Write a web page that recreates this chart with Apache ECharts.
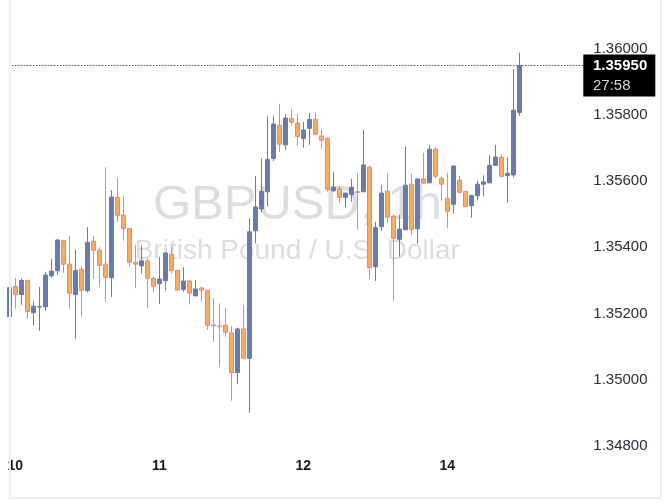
<!DOCTYPE html>
<html><head><meta charset="utf-8">
<script src="https://cdn.jsdelivr.net/npm/echarts@6/dist/echarts.min.js"></script>
<style>html,body{margin:0;padding:0;background:#fff}#c{width:670px;height:504px}</style>
</head><body><div id="c"></div>
<script>
// ---- data (hourly GBPUSD candles) ----
const opens = [1.35190,1.35282,1.35257,1.35300,1.35202,1.35219,1.35220,1.35314,1.35329,1.35421,
1.35349,1.35257,1.35333,1.35269,1.35418,1.35391,1.35349,1.35308,1.35551,1.35497,
1.35457,1.35355,1.35344,1.35359,1.35306,1.35290,1.35299,1.35379,1.35330,1.35272,
1.35298,1.35253,1.35277,1.35270,1.35165,1.35162,1.35164,1.35141,1.35021,1.35153,
1.35064,1.35450,1.35516,1.35568,1.35669,1.35769,1.35710,1.35790,1.35776,1.35729,
1.35760,1.35787,1.35737,1.35730,1.35571,1.35577,1.35551,1.35559,1.35568,1.35568,
1.35642,1.35341,1.35462,1.35570,1.35494,1.35424,1.35453,1.35591,1.35456,1.35607,
1.35595,1.35697,1.35609,1.35548,1.35530,1.35603,1.35569,1.35526,1.35556,1.35591,
1.35595,1.35648,1.35672,1.35617,1.35619,1.35808];
const closes = [1.35278,1.35258,1.35300,1.35206,1.35222,1.35221,1.35316,1.35328,1.35422,1.35349,
1.35261,1.35330,1.35270,1.35415,1.35391,1.35345,1.35309,1.35552,1.35497,1.35457,
1.35355,1.35349,1.35359,1.35306,1.35282,1.35304,1.35383,1.35330,1.35271,1.35298,
1.35261,1.35274,1.35270,1.35164,1.35163,1.35160,1.35143,1.35021,1.35153,1.35064,
1.35447,1.35522,1.35569,1.35666,1.35773,1.35712,1.35791,1.35778,1.35735,1.35755,
1.35787,1.35742,1.35724,1.35575,1.35582,1.35551,1.35564,1.35582,1.35566,1.35649,
1.35339,1.35460,1.35564,1.35491,1.35427,1.35455,1.35588,1.35454,1.35607,1.35594,
1.35697,1.35615,1.35591,1.35509,1.35646,1.35566,1.35523,1.35557,1.35591,1.35598,
1.35648,1.35673,1.35614,1.35624,1.35815,1.35950];
const lows = [1.35186,1.35214,1.35225,1.35185,1.35163,1.35148,1.35208,1.35308,1.35317,1.35323,
1.35214,1.35123,1.35190,1.35263,1.35305,1.35281,1.35235,1.35250,1.35476,1.35420,
1.35341,1.35276,1.35321,1.35215,1.35263,1.35229,1.35269,1.35321,1.35269,1.35266,
1.35227,1.35252,1.35235,1.35150,1.35113,1.35039,1.35129,1.34936,1.34986,1.35063,
1.34899,1.35412,1.35506,1.35523,1.35661,1.35689,1.35694,1.35768,1.35707,1.35701,
1.35710,1.35741,1.35697,1.35568,1.35568,1.35536,1.35520,1.35538,1.35454,1.35567,
1.35304,1.35298,1.35449,1.35474,1.35237,1.35372,1.35452,1.35437,1.35411,1.35593,
1.35595,1.35608,1.35541,1.35459,1.35502,1.35565,1.35521,1.35490,1.35542,1.35554,
1.35594,1.35647,1.35613,1.35535,1.35612,1.35798];
const highs = [1.35283,1.35307,1.35306,1.35301,1.35237,1.35280,1.35326,1.35365,1.35425,1.35422,
1.35434,1.35394,1.35343,1.35461,1.35434,1.35401,1.35642,1.35573,1.35611,1.35557,
1.35458,1.35408,1.35406,1.35367,1.35311,1.35371,1.35384,1.35402,1.35331,1.35340,
1.35301,1.35301,1.35281,1.35271,1.35247,1.35231,1.35216,1.35162,1.35157,1.35225,
1.35488,1.35616,1.35669,1.35797,1.35797,1.35834,1.35803,1.35818,1.35803,1.35780,
1.35807,1.35808,1.35757,1.35733,1.35629,1.35586,1.35565,1.35607,1.35624,1.35755,
1.35648,1.35477,1.35588,1.35625,1.35499,1.35498,1.35706,1.35622,1.35608,1.35686,
1.35710,1.35704,1.35614,1.35626,1.35647,1.35616,1.35570,1.35558,1.35601,1.35618,
1.35679,1.35710,1.35680,1.35673,1.35939,1.35989];
const slotCount = 97;                 // hourly slots on the axis (incl. empty right margin)
const dayLabels = ['10', '11', '12', '14'];
const dayLabelIndex = [1, 25, 49, 73];
const yMin = 1.348, yMax = 1.3612, yStep = 0.002;
const lastPrice = 1.35950;
const countdown = '27:58';
const watermarkTitle = 'GBPUSD, 1h';
const watermarkSub = 'British Pound / U.S. Dollar';

// ---- build ----
const cats = [];
for (let i = 0; i < slotCount; i++) cats.push('h' + i);
const candles = opens.map((o, i) => [o, closes[i], lows[i], highs[i]]);
const priceLine = [[cats[0], lastPrice], [cats[slotCount - 1], lastPrice]];
const FONT = '"Liberation Sans", Arial, sans-serif';
const UP = '#6a7aab', DOWN_FILL = '#fbab5f', DOWN_EDGE = '#f27f86';

const chart = echarts.init(document.getElementById('c'), null, {renderer: 'canvas'});
chart.setOption({
  animation: false,
  backgroundColor: '#ffffff',
  grid: {left: 9.3, right: 84.7, top: 9.34, bottom: 58.4, containLabel: false},
  xAxis: {
    type: 'category', data: cats, boundaryGap: false,
    axisLine: {show: false}, axisTick: {show: false}, splitLine: {show: false},
    axisLabel: {
      interval: (idx) => dayLabelIndex.indexOf(idx) >= 0,
      formatter: (v, idx) => { const k = dayLabelIndex.indexOf(idx); return k >= 0 ? dayLabels[k] : ''; },
      color: '#131722', fontSize: 14, fontWeight: 'bold', fontFamily: FONT, margin: 14
    }
  },
  yAxis: {
    type: 'value', position: 'right', min: yMin, max: yMax, interval: yStep, scale: true,
    axisLine: {show: false}, axisTick: {show: false}, splitLine: {show: false},
    axisLabel: {
      showMaxLabel: false,
      formatter: (v) => v.toFixed(5),
      color: '#2a2e39', fontSize: 15, fontFamily: FONT, margin: 8
    }
  },
  series: [{
    type: 'line', data: priceLine, symbol: 'none', silent: true, z: 3,
    lineStyle: {type: [1, 2], color: '#000', width: 1}
  }, {
    type: 'candlestick', data: candles, barWidth: 4, clip: true, z: 5,
    itemStyle: {color: UP, color0: DOWN_FILL, borderColor: UP, borderColor0: DOWN_EDGE, borderWidth: 1}
  }]
});

const plotL = 9.3, plotR = 670 - 84.7;
const cx = (plotL + plotR) / 2;
const py = chart.convertToPixel({yAxisIndex: 0}, lastPrice);
chart.setOption({
  graphic: [
    {type: 'text', z: 0, x: cx, y: 205, silent: true,
     style: {text: watermarkTitle, fill: '#dcdde1', font: '49px ' + FONT, textAlign: 'center', textVerticalAlign: 'middle'}},
    {type: 'text', z: 0, x: cx, y: 251, silent: true,
     style: {text: watermarkSub, fill: '#dcdde1', font: '28px ' + FONT, textAlign: 'center', textVerticalAlign: 'middle'}},
    {type: 'rect', z: 100, shape: {x: plotR - 2, y: py - 11, width: 72, height: 42},
     style: {fill: '#000'}},
    {type: 'text', z: 101, x: 593, y: py + 0.5,
     style: {text: lastPrice.toFixed(5), fill: '#fff', font: 'bold 15px ' + FONT, textVerticalAlign: 'middle'}},
    {type: 'text', z: 101, x: 593, y: py + 20.5,
     style: {text: countdown, fill: '#d8d8d8', font: '15px ' + FONT, textVerticalAlign: 'middle'}},
    {type: 'rect', z: 90, shape: {x: 10, y: -5, width: 651, height: 503},
     style: {fill: 'none', stroke: '#eeeeee', lineWidth: 2}}
  ]
});
</script></body></html>
